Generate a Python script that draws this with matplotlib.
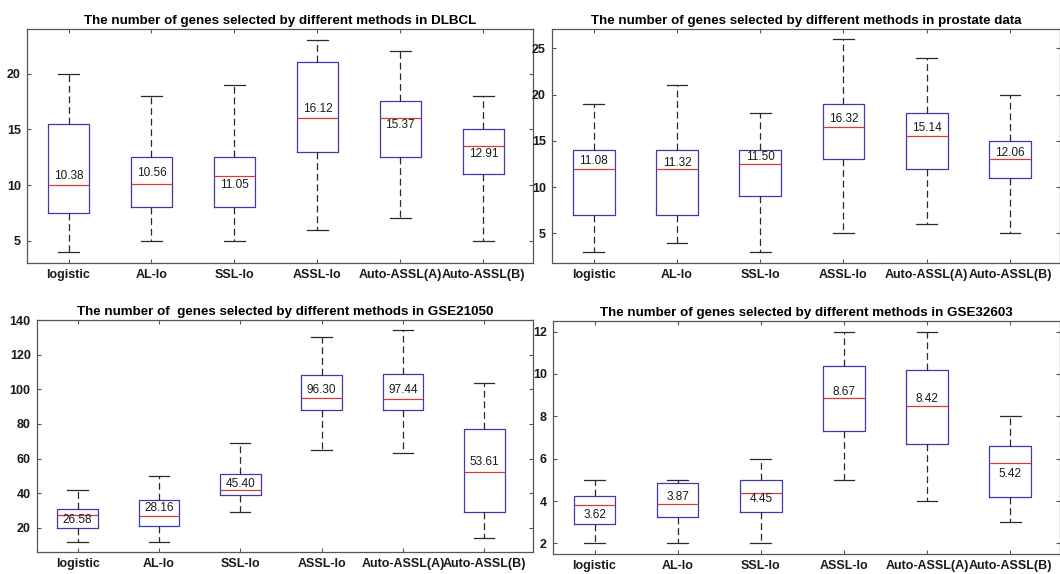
import numpy as np
import matplotlib.pyplot as plt

# ------------------------------------------------------------------
# Données (min, Q1, médiane, Q3, max, moyenne)
# ------------------------------------------------------------------
methodes = ["logistic", "AL-lo", "SSL-lo", "ASSL-lo", "Auto-ASSL(A)", "Auto-ASSL(B)"]

# DLBCL
dlbcl_min = [4, 5, 5, 6, 7, 5]
dlbcl_q1 = [7.5, 8, 8, 13, 12.5, 11]
dlbcl_med = [10, 10.1, 10.8, 16, 16, 13.5]
dlbcl_q3 = [15.5, 12.5, 12.5, 21, 17.5, 15]
dlbcl_max = [20, 18, 19, 23, 22, 18]
dlbcl_moy = [10.38, 10.56, 11.05, 16.12, 15.37, 12.91]
dlbcl_lbl = [10.8, 11.05, 10.0, 16.8, 15.35, 12.78]

# prostate
prost_min = [3, 4, 3, 5, 6, 5]
prost_q1 = [7, 7, 9, 13, 12, 11]
prost_med = [12, 12, 12.5, 16.5, 15.5, 13]
prost_q3 = [14, 14, 14, 19, 18, 15]
prost_max = [19, 21, 18, 26, 24, 20]
prost_moy = [11.08, 11.32, 11.50, 16.32, 15.14, 12.06]
prost_lbl = [12.85, 12.6, 13.25, 17.4, 16.35, 13.7]

# GSE21050
gse21_min = [12, 12, 29, 65, 63, 14]
gse21_q1 = [20, 21, 39, 88, 88, 29]
gse21_med = [27.5, 27, 42, 95, 94.5, 52.5]
gse21_q3 = [31, 36, 51, 108, 109, 77]
gse21_max = [42, 50, 69, 130, 134, 103.5]
gse21_moy = [26.58, 28.16, 45.40, 96.30, 97.44, 53.61]
gse21_lbl = [24.4, 31.6, 45.4, 99.4, 99.4, 58]

# GSE32603
gse32_min = [2, 2, 2, 5, 4, 3]
gse32_q1 = [2.9, 3.27, 3.5, 7.3, 6.7, 4.2]
gse32_med = [3.8, 3.87, 4.4, 8.89, 8.5, 5.8]
gse32_q3 = [4.25, 4.85, 5, 10.4, 10.18, 6.6]
gse32_max = [5, 5, 6, 12, 12, 8]
gse32_moy = [3.62, 3.87, 4.45, 8.67, 8.42, 5.42]
gse32_lbl = [3.35, 4.19, 4.09, 9.17, 8.8, 5.29]

########################################################
# Affichage
########################################################
plt.rcParams["font.family"] = ["Liberation Sans", "DejaVu Sans"]

fig = plt.figure(figsize=(10.6, 5.74), dpi=100)

panneaux = [
    # position, titre, données, ylim, yticks
    ([0.0255, 0.5418, 0.4774, 0.4077],
     "The number of genes selected by different methods in DLBCL",
     (dlbcl_min, dlbcl_q1, dlbcl_med, dlbcl_q3, dlbcl_max, dlbcl_moy, dlbcl_lbl),
     (3, 24), [5, 10, 15, 20]),
    ([0.5208, 0.5418, 0.4792, 0.4077],
     "The number of genes selected by different methods in prostate data",
     (prost_min, prost_q1, prost_med, prost_q3, prost_max, prost_moy, prost_lbl),
     (1.8, 27.1), [5, 10, 15, 20, 25]),
    ([0.0349, 0.0383, 0.4679, 0.4042],
     "The number of  genes selected by different methods in GSE21050",
     (gse21_min, gse21_q1, gse21_med, gse21_q3, gse21_max, gse21_moy, gse21_lbl),
     (6, 140), [20, 40, 60, 80, 100, 120, 140]),
    ([0.5217, 0.0348, 0.4783, 0.4059],
     "The number of genes selected by different methods in GSE32603",
     (gse32_min, gse32_q1, gse32_med, gse32_q3, gse32_max, gse32_moy, gse32_lbl),
     (1.5, 12.5), [2, 4, 6, 8, 10, 12]),
]

couleur_boite = "#3c3ca8"
couleur_mediane = "#d83a3a"
couleur_moustache = "#2a2a2a"

for pos, titre, donnees, ylim, yticks in panneaux:
    vmin, q1, med, q3, vmax, moy, lbl = donnees
    ax = fig.add_axes(pos)

    stats = []
    for i in range(len(methodes)):
        stats.append({"whislo": vmin[i], "q1": q1[i], "med": med[i],
                      "q3": q3[i], "whishi": vmax[i], "fliers": [],
                      "label": methodes[i]})

    ax.bxp(stats, positions=np.arange(1, 7), widths=0.5, showfliers=False,
           boxprops=dict(color=couleur_boite, linewidth=0.9),
           medianprops=dict(color=couleur_mediane, linewidth=0.9),
           whiskerprops=dict(color=couleur_moustache, linewidth=0.9,
                             linestyle=(0, (5.5, 3))),
           capprops=dict(color=couleur_moustache, linewidth=0.9))

    # Moyennes écrites dans les boîtes
    for i in range(len(methodes)):
        ax.text(i + 1, lbl[i], "%.2f" % moy[i], ha="center", va="center",
                fontsize=8.5, color="#1a1a1a")

    ax.set_xlim(0.5, 6.6)
    ax.set_ylim(*ylim)
    ax.set_yticks(yticks)
    ax.set_title(titre, fontsize=9.6, fontweight="bold", pad=3.5)

    ax.tick_params(direction="in", length=3, width=0.8, color="#555555",
                   top=True, right=True, labelsize=9, pad=4.5)
    for lab in ax.get_xticklabels() + ax.get_yticklabels():
        lab.set_fontweight("bold")
        lab.set_color("#1a1a1a")
    for sp in ax.spines.values():
        sp.set_color("#555555")
        sp.set_linewidth(0.9)

plt.savefig("out.png", dpi=100)
